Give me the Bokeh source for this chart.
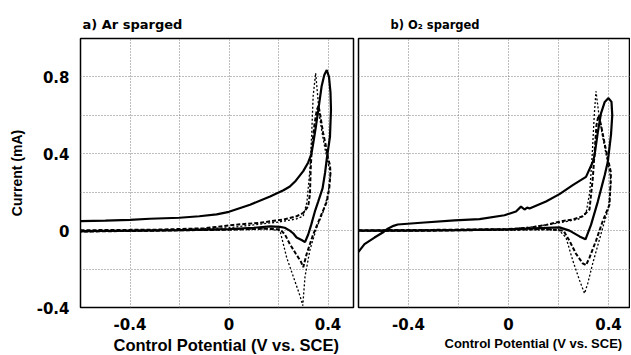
from bokeh.plotting import figure
from bokeh.layouts import row
from bokeh.models import Range1d, FixedTicker, Title
from bokeh.embed import file_html
from bokeh.resources import INLINE

# ---------------- data ----------------
# Panel a) Ar sparged
a_solid_x = [-0.6, -0.5, -0.4, -0.32, -0.2, -0.12, -0.05, 0.0, 0.085, 0.166, 0.22, 0.246, 0.27, 0.30,
             0.32, 0.333, 0.341, 0.352, 0.361, 0.374, 0.385, 0.395, 0.404, 0.41, 0.412, 0.408, 0.395,
             0.388, 0.378, 0.36, 0.347, 0.332, 0.32, 0.307, 0.295, 0.273, 0.26, 0.246, 0.225, 0.206,
             0.166, 0.1, 0.0, -0.2, -0.4, -0.6]
a_solid_y = [0.05, 0.052, 0.056, 0.062, 0.067, 0.075, 0.085, 0.098, 0.135, 0.178, 0.21, 0.23, 0.26, 0.31,
             0.355, 0.40, 0.46, 0.55, 0.63, 0.75, 0.81, 0.836, 0.80, 0.72, 0.63, 0.49, 0.374,
             0.30, 0.22, 0.15, 0.10, 0.03, -0.02, -0.06, -0.05, -0.036, -0.015, 0.0, 0.015, 0.02,
             0.022, 0.015, 0.008, 0.003, 0.0, -0.003]

a_dash_x = [-0.6, -0.3, -0.1, 0.017, 0.125, 0.22, 0.273, 0.30, 0.32, 0.327, 0.33, 0.334, 0.345, 0.355,
            0.362, 0.37, 0.38, 0.39, 0.40, 0.408, 0.41, 0.405, 0.395, 0.368, 0.34, 0.314, 0.30, 0.29,
            0.27, 0.246, 0.226, 0.206, 0.15, 0.0, -0.3, -0.6]
a_dash_y = [0.002, 0.005, 0.012, 0.03, 0.041, 0.058, 0.075, 0.092, 0.127, 0.19, 0.32, 0.42, 0.55, 0.63,
            0.65, 0.59, 0.51, 0.45, 0.38, 0.34, 0.30, 0.22, 0.15, 0.067, -0.02, -0.12, -0.19, -0.16,
            -0.12, -0.07, -0.02, 0.007, 0.01, 0.005, 0.0, -0.005]

a_dot_x = [-0.6, -0.3, 0.0, 0.1, 0.2, 0.27, 0.30, 0.315, 0.327, 0.334, 0.34, 0.35, 0.357, 0.365,
           0.38, 0.395, 0.41, 0.408, 0.40, 0.381, 0.354, 0.327, 0.307, 0.298, 0.287, 0.26, 0.233,
           0.206, 0.15, 0.0, -0.3, -0.6]
a_dot_y = [-0.005, 0.0, 0.015, 0.03, 0.045, 0.06, 0.075, 0.15, 0.32, 0.5, 0.7, 0.82, 0.72, 0.6,
           0.48, 0.38, 0.30, 0.27, 0.19, 0.10, 0.015, -0.10, -0.24, -0.39, -0.34, -0.24, -0.14,
           0.0, 0.01, 0.005, 0.0, -0.005]

# Panel b) O2 sparged
b_solid_x = [-0.6, -0.576, -0.536, -0.503, -0.483, -0.46, -0.443, -0.35, -0.216, -0.116, -0.016, 0.03,
             0.05, 0.064, 0.075, 0.084, 0.15, 0.204, 0.257, 0.31, 0.337, 0.344, 0.357, 0.37, 0.385,
             0.40, 0.412, 0.415, 0.41, 0.397, 0.385, 0.377, 0.357, 0.33, 0.308, 0.284, 0.244, 0.204,
             0.1, 0.0, -0.2, -0.4, -0.6]
b_solid_y = [-0.11, -0.07, -0.036, -0.01, 0.01, 0.025, 0.032, 0.041, 0.053, 0.06, 0.08, 0.1,
             0.125, 0.11, 0.12, 0.115, 0.152, 0.19, 0.237, 0.28, 0.357, 0.39, 0.51, 0.61, 0.67,
             0.69, 0.67, 0.60, 0.50, 0.357, 0.29, 0.25, 0.15, 0.03, -0.045, -0.03, 0.0, 0.017,
             0.012, 0.007, 0.003, 0.0, 0.0]

b_dash_x = [-0.6, -0.3, 0.0, 0.084, 0.15, 0.217, 0.257, 0.297, 0.324, 0.33, 0.337, 0.345, 0.352, 0.36,
            0.37, 0.385, 0.40, 0.41, 0.404, 0.377, 0.35, 0.324, 0.31, 0.297, 0.27, 0.244, 0.22,
            0.15, 0.0, -0.3, -0.6]
b_dash_y = [0.002, 0.004, 0.008, 0.015, 0.03, 0.05, 0.058, 0.075, 0.11, 0.186, 0.27, 0.42, 0.55, 0.60,
            0.55, 0.45, 0.36, 0.30, 0.135, 0.05, -0.053, -0.14, -0.18, -0.17, -0.12, -0.053, 0.0,
            0.008, 0.005, 0.0, 0.0]

b_dot_x = [-0.6, 0.0, 0.1, 0.2, 0.28, 0.31, 0.325, 0.335, 0.343, 0.35, 0.36, 0.375, 0.39, 0.405,
           0.41, 0.40, 0.377, 0.337, 0.317, 0.304, 0.284, 0.257, 0.23, 0.2, 0.0, -0.6]
b_dot_y = [0.0, 0.008, 0.02, 0.04, 0.06, 0.09, 0.2, 0.4, 0.6, 0.725, 0.62, 0.5, 0.4, 0.3,
           0.25, 0.118, 0.015, -0.17, -0.275, -0.327, -0.258, -0.155, -0.036, 0.005, 0.003, 0.0]

x_tick_vals = [-0.4, 0.0, 0.4]
x_tick_labels = ["-0.4", "0", "0.4"]
y_tick_vals = [-0.4, 0.0, 0.4, 0.8]
y_tick_labels = ["-0.4", "0", "0.4", "0.8"]
x_grid_vals = [-0.4, -0.2, 0.0, 0.2, 0.4]
y_grid_vals = [-0.2, 0.0, 0.2, 0.4, 0.6, 0.8]

title_a = "a) Ar sparged"
title_b = "b) O\u2082 sparged"
x_label = "Control Potential (V vs. SCE)"
y_label = "Current (mA)"

TICK_FONT = "DejaVu Sans"
LABEL_FONT = "Liberation Sans"
FIG_H = 354


def make_panel(width, border_left, border_right, x_end, show_y):
    p = figure(width=width, height=FIG_H, output_backend="svg", toolbar_location=None,
               x_range=Range1d(-0.6, x_end), y_range=Range1d(-0.4, 1.0),
               min_border_left=border_left, min_border_right=border_right,
               min_border_top=38, min_border_bottom=43)
    p.outline_line_color = "black"
    p.outline_line_width = 1.5
    p.background_fill_color = "white"
    p.border_fill_color = "white"

    p.xaxis.ticker = FixedTicker(ticks=x_tick_vals)
    p.xaxis.major_label_overrides = dict(zip(x_tick_vals, x_tick_labels))
    p.yaxis.ticker = FixedTicker(ticks=y_tick_vals)
    p.yaxis.major_label_overrides = dict(zip(y_tick_vals, y_tick_labels))
    for ax in (p.xaxis, p.yaxis):
        ax.axis_line_color = None
        ax.major_tick_line_color = None
        ax.minor_tick_line_color = None
        ax.major_label_text_font = TICK_FONT
        ax.major_label_text_font_style = "bold"
        ax.major_label_text_font_size = "15px"
        ax.major_label_text_color = "black"
    p.xaxis.major_label_standoff = 4
    p.yaxis.major_label_standoff = 5
    if show_y:
        p.yaxis.axis_label = y_label
        p.yaxis.axis_label_text_font = LABEL_FONT
        p.yaxis.axis_label_text_font_style = "bold"
        p.yaxis.axis_label_text_font_size = "14px"
        p.yaxis.axis_label_text_color = "black"
        p.yaxis.axis_label_standoff = 9
    else:
        p.yaxis.visible = False

    p.xgrid.ticker = FixedTicker(ticks=x_grid_vals)
    p.ygrid.ticker = FixedTicker(ticks=y_grid_vals)
    for g in (p.xgrid, p.ygrid):
        g.grid_line_color = "#7a7a7a"
        g.grid_line_dash = "1 2"
        g.grid_line_width = 1
    return p


pa = make_panel(355, 80, 2, 0.503, True)
pb = make_panel(275, 3, 0, 0.488, False)

for p, (sx, sy, dx, dy, ox, oy) in (
        (pa, (a_solid_x, a_solid_y, a_dash_x, a_dash_y, a_dot_x, a_dot_y)),
        (pb, (b_solid_x, b_solid_y, b_dash_x, b_dash_y, b_dot_x, b_dot_y))):
    p.line(ox, oy, line_color="black", line_width=1.3, line_dash="2 2")
    p.line(dx, dy, line_color="black", line_width=2, line_dash="4 2")
    p.line(sx, sy, line_color="black", line_width=2.2)

# titles (above) and x-axis labels (below)
pa.add_layout(Title(text=title_a, align="left", offset=2, standoff=14, text_font=TICK_FONT,
                    text_font_style="bold", text_font_size="13px", text_color="black"), "above")
pb.add_layout(Title(text=title_b, align="left", offset=32, standoff=14, text_font=TICK_FONT,
                    text_font_style="bold", text_font_size="11.5px", text_color="black"), "above")
pa.add_layout(Title(text=x_label, align="left", offset=33, standoff=2, text_font=LABEL_FONT,
                    text_font_style="bold", text_font_size="16.5px", text_color="black"), "below")
pb.add_layout(Title(text=x_label, align="left", offset=86, standoff=2, text_font=LABEL_FONT,
                    text_font_style="bold", text_font_size="13px", text_color="black"), "below")

layout = row(pa, pb, spacing=0)
open("out.html", "w").write(file_html(layout, INLINE))
